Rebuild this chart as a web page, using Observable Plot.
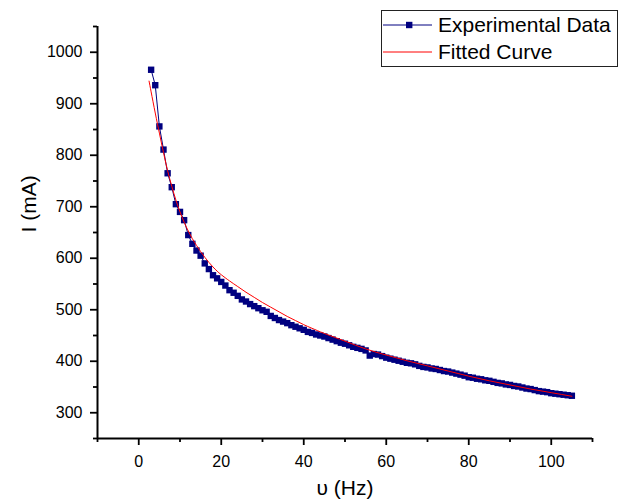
<!DOCTYPE html>
<html><head><meta charset="utf-8">
<script src="https://cdn.jsdelivr.net/npm/d3@7"></script>
<script src="https://cdn.jsdelivr.net/npm/@observablehq/plot@0.6"></script>
<style>
body{margin:0;background:#fff;}
#chart{position:relative;width:621px;height:503px;font-family:"Liberation Sans",Arial,sans-serif;}
#legend{position:absolute;left:381px;top:10px;}
</style></head><body><div id="chart"></div>
<script>
// Experimental data: frequency (Hz) and current (mA)
const freq = [3,4,5,6,7,8,9,10,11,12,13,14,15,16,17,18,19,20,21,22,23,24,25,26,27,28,29,30,31,32,33,34,35,36,37,38,39,40,41,42,43,44,45,46,47,48,49,50,51,52,53,54,55,56,57,58,59,60,61,62,63,64,65,66,67,68,69,70,71,72,73,74,75,76,77,78,79,80,81,82,83,84,85,86,87,88,89,90,91,92,93,94,95,96,97,98,99,100,101,102,103,104,105];
const current = [966,936,856,811,765,738,705,690,674,645,628,615,605,590,579,567,561,554,547,538,533,527,520,516,511,507,503,499,496,488,484,480,477,474,470,467,464,461,457,455,452,450,448,445,442,439,436,434,431,428,426,424,421,411,414,413,410,407,405,403,401,399,397,396,394,391,389,388,386,385,383,381,380,378,376,374,372,369,368,366,365,363,362,360,358,357,355,354,352,351,349,347,346,344,342,341,340,338,337,336,335,334,333];
// Fitted curve samples
const fitFreq = [2.5,3,4,5,6,7,8,9,10,11,12,13,14,15,16,17,18,19,20,22,24,26,28,30,32,34,36,38,40,42,45,50,55,60,65,70,75,80,85,90,95,100,105];
const fitCurrent = [944,923,882,843,805,770,740,713,690,670,653,638,625,613,602,592,583,575,568,556,545,534,524,514,505,496,487,479,471,464,454,439,424,412,401,391,381,371,362,354,346,339,332];
const seriesNames = ["Experimental Data","Fitted Curve"];
const seriesColors = ["#000080","#ff0000"];
const xMajor = [0,20,40,60,80,100];
const xMinor = [-10,10,30,50,70,90,110];
const yMajor = [300,400,500,600,700,800,900,1000];
const yMinor = [250,350,450,550,650,750,850,950,1050];
const xLabel = "υ (Hz)";
const yLabel = "I (mA)";

const data = freq.map((f,i)=>({f, I: current[i]}));
const fit = fitFreq.map((f,i)=>({f, I: fitCurrent[i]}));

const plot = Plot.plot({
  width:621, height:503,
  marginLeft:97, marginRight:29, marginTop:26, marginBottom:65,
  style:{fontFamily:'"Liberation Sans",Arial,sans-serif', fontSize:"16px", color:"#000", background:"#fff", overflow:"visible"},
  x:{domain:[-10,110]},
  y:{domain:[250,1050]},
  marks:[
    Plot.axisX({ticks:xMajor, tickSize:7, tickPadding:10, tickFormat:d3.format("d"), label:null, fontSize:16, strokeWidth:1.8}),
    Plot.axisX({ticks:xMinor, tickSize:4, text:null, label:null, strokeWidth:1.8}),
    Plot.axisY({ticks:yMajor, tickSize:7, tickPadding:8, tickFormat:d3.format("d"), label:null, fontSize:16, strokeWidth:1.8}),
    Plot.axisY({ticks:yMinor, tickSize:4, text:null, label:null, strokeWidth:1.8}),
    Plot.ruleX([-10], {strokeWidth:2}),
    Plot.ruleY([250], {strokeWidth:2}),
    Plot.line(data, {x:"f", y:"I", stroke:seriesColors[0], strokeWidth:1}),
    Plot.dot(data, {x:"f", y:"I", symbol:"square", r:3.6, fill:seriesColors[0], stroke:null}),
    Plot.line(fit, {x:"f", y:"I", stroke:seriesColors[1], strokeWidth:1, curve:"natural"}),
    Plot.text([yLabel], {frameAnchor:"left", rotate:-90, dx:-68, fontSize:21}),
    Plot.text([xLabel], {frameAnchor:"bottom", dy:56, fontSize:21})
  ]
});
const chart = document.getElementById("chart");
chart.appendChild(plot);

// Legend
const lg = d3.create("svg").attr("id","legend").attr("width",238).attr("height",58)
  .style("font-family",'"Liberation Sans",Arial,sans-serif');
lg.append("rect").attr("x",0.5).attr("y",0.5).attr("width",236).attr("height",56)
  .attr("fill","#fff").attr("stroke","#222").attr("stroke-width",1);
seriesNames.forEach((name,i)=>{
  const y = 15 + i*27;
  lg.append("line").attr("x1",2).attr("x2",51).attr("y1",y).attr("y2",y)
    .attr("stroke",seriesColors[i]).attr("stroke-width",1);
  if(i===0) lg.append("rect").attr("x",25).attr("y",y-3.2).attr("width",6.4).attr("height",6.4).attr("fill",seriesColors[i]);
  lg.append("text").attr("x",57).attr("y",y+7).attr("font-size",21).attr("fill","#000").text(name);
});
chart.appendChild(lg.node());
</script></body></html>
